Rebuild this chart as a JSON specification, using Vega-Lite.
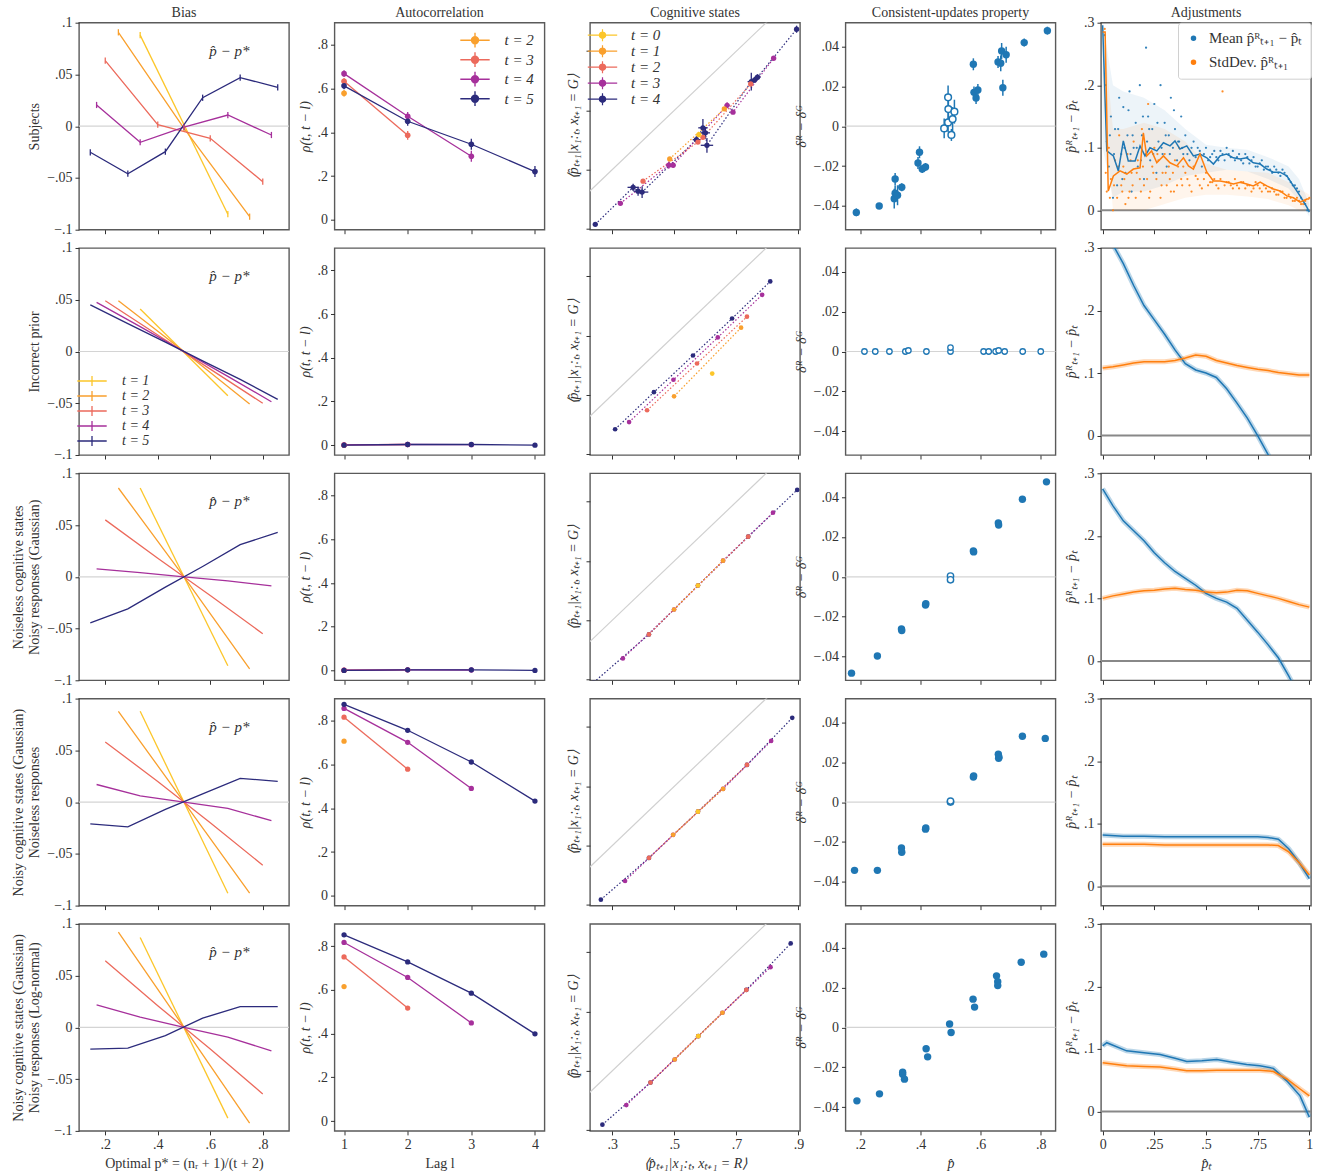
{
"$schema":"https://vega.github.io/schema/vega-lite/v6.json",
"background":"white",
"padding":{"left":10,"top":4.7,"right":4,"bottom":4},
"columns":5,
"spacing":{"row":18.3,"column":45.5},
"bounds":"flush",
"resolve":{"scale":{"color":"independent"},"legend":{"color":"independent"}},
"config":{
 "font":"Liberation Serif",
 "view":{"stroke":"#5a5a5a","strokeWidth":1.4},
 "axis":{"domain":false,"grid":false,"tickSize":4,"tickColor":"#333","tickWidth":1,"labelFontSize":14,"labelColor":"#333","titleFontSize":14,"titleFontWeight":"normal","titleColor":"#333","labelPadding":3,"titlePadding":5,"labelFont":"Liberation Serif","titleFont":"Liberation Serif","labelOverlap":false},
 "title":{"fontSize":14,"fontWeight":"normal","color":"#333","offset":3,"font":"Liberation Serif"},
 "legend":{"labelFont":"Liberation Serif","labelColor":"#333"}
},
"datasets":{
"bias":[
{"r":1,"t":1,"x":0.333,"y":0.088,"e":0.003},{"r":1,"t":1,"x":0.667,"y":-0.085,"e":0.003},
{"r":1,"t":2,"x":0.25,"y":0.0907,"e":0.003},{"r":1,"t":2,"x":0.5,"y":-0.002,"e":0.003},{"r":1,"t":2,"x":0.75,"y":-0.0874,"e":0.003},
{"r":1,"t":3,"x":0.2,"y":0.0633,"e":0.003},{"r":1,"t":3,"x":0.4,"y":0.0015,"e":0.003},{"r":1,"t":3,"x":0.6,"y":-0.0117,"e":0.003},{"r":1,"t":3,"x":0.8,"y":-0.0536,"e":0.003},
{"r":1,"t":4,"x":0.167,"y":0.0205,"e":0.003},{"r":1,"t":4,"x":0.333,"y":-0.0155,"e":0.003},{"r":1,"t":4,"x":0.5,"y":-0.001,"e":0.003},{"r":1,"t":4,"x":0.667,"y":0.0108,"e":0.003},{"r":1,"t":4,"x":0.833,"y":-0.0085,"e":0.003},
{"r":1,"t":5,"x":0.143,"y":-0.0252,"e":0.003},{"r":1,"t":5,"x":0.286,"y":-0.0459,"e":0.003},{"r":1,"t":5,"x":0.429,"y":-0.0246,"e":0.003},{"r":1,"t":5,"x":0.571,"y":0.0275,"e":0.003},{"r":1,"t":5,"x":0.714,"y":0.0469,"e":0.003},{"r":1,"t":5,"x":0.857,"y":0.0376,"e":0.003},
{"r":2,"t":1,"x":0.333,"y":0.041},{"r":2,"t":1,"x":0.667,"y":-0.0427},
{"r":2,"t":2,"x":0.25,"y":0.049},{"r":2,"t":2,"x":0.5,"y":0},{"r":2,"t":2,"x":0.75,"y":-0.0507},
{"r":2,"t":3,"x":0.2,"y":0.049},{"r":2,"t":3,"x":0.4,"y":0.016},{"r":2,"t":3,"x":0.6,"y":-0.017},{"r":2,"t":3,"x":0.8,"y":-0.05},
{"r":2,"t":4,"x":0.167,"y":0.0475},{"r":2,"t":4,"x":0.333,"y":0.024},{"r":2,"t":4,"x":0.5,"y":0},{"r":2,"t":4,"x":0.667,"y":-0.024},{"r":2,"t":4,"x":0.833,"y":-0.0486},
{"r":2,"t":5,"x":0.143,"y":0.045},{"r":2,"t":5,"x":0.286,"y":0.027},{"r":2,"t":5,"x":0.429,"y":0.009},{"r":2,"t":5,"x":0.571,"y":-0.009},{"r":2,"t":5,"x":0.714,"y":-0.027},{"r":2,"t":5,"x":0.857,"y":-0.0463},
{"r":3,"t":1,"x":0.333,"y":0.0858},{"r":3,"t":1,"x":0.667,"y":-0.086},
{"r":3,"t":2,"x":0.25,"y":0.0858},{"r":3,"t":2,"x":0.5,"y":0},{"r":3,"t":2,"x":0.75,"y":-0.089},
{"r":3,"t":3,"x":0.2,"y":0.055},{"r":3,"t":3,"x":0.4,"y":0.018},{"r":3,"t":3,"x":0.6,"y":-0.018},{"r":3,"t":3,"x":0.8,"y":-0.055},
{"r":3,"t":4,"x":0.167,"y":0.0077},{"r":3,"t":4,"x":0.333,"y":0.004},{"r":3,"t":4,"x":0.5,"y":0},{"r":3,"t":4,"x":0.667,"y":-0.004},{"r":3,"t":4,"x":0.833,"y":-0.0087},
{"r":3,"t":5,"x":0.143,"y":-0.0446},{"r":3,"t":5,"x":0.286,"y":-0.031},{"r":3,"t":5,"x":0.429,"y":-0.01},{"r":3,"t":5,"x":0.571,"y":0.01},{"r":3,"t":5,"x":0.714,"y":0.031},{"r":3,"t":5,"x":0.857,"y":0.043},
{"r":4,"t":1,"x":0.333,"y":0.0877},{"r":4,"t":1,"x":0.667,"y":-0.088},
{"r":4,"t":2,"x":0.25,"y":0.0877},{"r":4,"t":2,"x":0.5,"y":0},{"r":4,"t":2,"x":0.75,"y":-0.088},
{"r":4,"t":3,"x":0.2,"y":0.058},{"r":4,"t":3,"x":0.4,"y":0.02},{"r":4,"t":3,"x":0.6,"y":-0.02},{"r":4,"t":3,"x":0.8,"y":-0.061},
{"r":4,"t":4,"x":0.167,"y":0.017},{"r":4,"t":4,"x":0.333,"y":0.006},{"r":4,"t":4,"x":0.5,"y":0},{"r":4,"t":4,"x":0.667,"y":-0.006},{"r":4,"t":4,"x":0.833,"y":-0.018},
{"r":4,"t":5,"x":0.143,"y":-0.021},{"r":4,"t":5,"x":0.286,"y":-0.024},{"r":4,"t":5,"x":0.429,"y":-0.007},{"r":4,"t":5,"x":0.571,"y":0.008},{"r":4,"t":5,"x":0.714,"y":0.023},{"r":4,"t":5,"x":0.857,"y":0.02},
{"r":5,"t":1,"x":0.333,"y":0.0868},{"r":5,"t":1,"x":0.667,"y":-0.0877},
{"r":5,"t":2,"x":0.25,"y":0.092},{"r":5,"t":2,"x":0.5,"y":0},{"r":5,"t":2,"x":0.75,"y":-0.0926},
{"r":5,"t":3,"x":0.2,"y":0.0643},{"r":5,"t":3,"x":0.4,"y":0.021},{"r":5,"t":3,"x":0.6,"y":-0.021},{"r":5,"t":3,"x":0.8,"y":-0.0643},
{"r":5,"t":4,"x":0.167,"y":0.0217},{"r":5,"t":4,"x":0.333,"y":0.0099},{"r":5,"t":4,"x":0.5,"y":0},{"r":5,"t":4,"x":0.667,"y":-0.0094},{"r":5,"t":4,"x":0.833,"y":-0.0227},
{"r":5,"t":5,"x":0.143,"y":-0.021},{"r":5,"t":5,"x":0.286,"y":-0.02},{"r":5,"t":5,"x":0.429,"y":-0.008},{"r":5,"t":5,"x":0.571,"y":0.0089},{"r":5,"t":5,"x":0.714,"y":0.0201},{"r":5,"t":5,"x":0.857,"y":0.0201}
],
"ac":[
{"r":1,"t":2,"lag":1,"rho":0.579,"e":0.015},
{"r":1,"t":3,"lag":1,"rho":0.634,"e":0.015},{"r":1,"t":3,"lag":2,"rho":0.387,"e":0.02},
{"r":1,"t":4,"lag":1,"rho":0.669,"e":0.015},{"r":1,"t":4,"lag":2,"rho":0.474,"e":0.02},{"r":1,"t":4,"lag":3,"rho":0.291,"e":0.025},
{"r":1,"t":5,"lag":1,"rho":0.613,"e":0.015},{"r":1,"t":5,"lag":2,"rho":0.451,"e":0.02},{"r":1,"t":5,"lag":3,"rho":0.346,"e":0.025},{"r":1,"t":5,"lag":4,"rho":0.221,"e":0.025},
{"r":2,"t":2,"lag":1,"rho":0.0},
{"r":2,"t":3,"lag":1,"rho":0.001},{"r":2,"t":3,"lag":2,"rho":0.003},
{"r":2,"t":4,"lag":1,"rho":0.001},{"r":2,"t":4,"lag":2,"rho":0.003},{"r":2,"t":4,"lag":3,"rho":0.002},
{"r":2,"t":5,"lag":1,"rho":0.0},{"r":2,"t":5,"lag":2,"rho":0.003},{"r":2,"t":5,"lag":3,"rho":0.003},{"r":2,"t":5,"lag":4,"rho":0.0},
{"r":3,"t":2,"lag":1,"rho":0.0},
{"r":3,"t":3,"lag":1,"rho":0.001},{"r":3,"t":3,"lag":2,"rho":0.003},
{"r":3,"t":4,"lag":1,"rho":0.001},{"r":3,"t":4,"lag":2,"rho":0.003},{"r":3,"t":4,"lag":3,"rho":0.002},
{"r":3,"t":5,"lag":1,"rho":0.0},{"r":3,"t":5,"lag":2,"rho":0.003},{"r":3,"t":5,"lag":3,"rho":0.003},{"r":3,"t":5,"lag":4,"rho":0.0},
{"r":4,"t":2,"lag":1,"rho":0.707},
{"r":4,"t":3,"lag":1,"rho":0.817},{"r":4,"t":3,"lag":2,"rho":0.579},
{"r":4,"t":4,"lag":1,"rho":0.857},{"r":4,"t":4,"lag":2,"rho":0.702},{"r":4,"t":4,"lag":3,"rho":0.491},
{"r":4,"t":5,"lag":1,"rho":0.876},{"r":4,"t":5,"lag":2,"rho":0.757},{"r":4,"t":5,"lag":3,"rho":0.612},{"r":4,"t":5,"lag":4,"rho":0.433},
{"r":5,"t":2,"lag":1,"rho":0.615},
{"r":5,"t":3,"lag":1,"rho":0.751},{"r":5,"t":3,"lag":2,"rho":0.517},
{"r":5,"t":4,"lag":1,"rho":0.817},{"r":5,"t":4,"lag":2,"rho":0.657},{"r":5,"t":4,"lag":3,"rho":0.449},
{"r":5,"t":5,"lag":1,"rho":0.852},{"r":5,"t":5,"lag":2,"rho":0.728},{"r":5,"t":5,"lag":3,"rho":0.585},{"r":5,"t":5,"lag":4,"rho":0.399}
],
"cog":[
{"r":1,"t":4,"x":0.245,"y":0.115,"ex":0.006,"ey":0.004},{"r":1,"t":4,"x":0.367,"y":0.24,"ex":0.018,"ey":0.012},{"r":1,"t":4,"x":0.383,"y":0.227,"ex":0.015,"ey":0.015},{"r":1,"t":4,"x":0.396,"y":0.224,"ex":0.02,"ey":0.02},{"r":1,"t":4,"x":0.571,"y":0.401,"ex":0.012,"ey":0.012},{"r":1,"t":4,"x":0.592,"y":0.441,"ex":0.015,"ey":0.03},{"r":1,"t":4,"x":0.6,"y":0.424,"ex":0.015,"ey":0.02},{"r":1,"t":4,"x":0.605,"y":0.382,"ex":0.02,"ey":0.025},{"r":1,"t":4,"x":0.748,"y":0.597,"ex":0.012,"ey":0.03},{"r":1,"t":4,"x":0.759,"y":0.603,"ex":0.01,"ey":0.01},{"r":1,"t":4,"x":0.768,"y":0.612,"ex":0.01,"ey":0.01},{"r":1,"t":4,"x":0.894,"y":0.774,"ex":0.004,"ey":0.012},
{"r":1,"t":3,"x":0.326,"y":0.186,"ex":0.006,"ey":0.006},{"r":1,"t":3,"x":0.482,"y":0.315,"ex":0.01,"ey":0.012},{"r":1,"t":3,"x":0.496,"y":0.315,"ex":0.008,"ey":0.01},{"r":1,"t":3,"x":0.67,"y":0.517,"ex":0.008,"ey":0.01},{"r":1,"t":3,"x":0.689,"y":0.494,"ex":0.006,"ey":0.006},{"r":1,"t":3,"x":0.82,"y":0.676,"ex":0.006,"ey":0.006},
{"r":1,"t":2,"x":0.399,"y":0.261,"ex":0.005,"ey":0.005},{"r":1,"t":2,"x":0.576,"y":0.393,"ex":0.006,"ey":0.006},{"r":1,"t":2,"x":0.592,"y":0.409,"ex":0.006,"ey":0.006},{"r":1,"t":2,"x":0.746,"y":0.589,"ex":0.005,"ey":0.005},
{"r":1,"t":1,"x":0.485,"y":0.336,"ex":0.005,"ey":0.005},{"r":1,"t":1,"x":0.661,"y":0.505,"ex":0.005,"ey":0.005},
{"r":1,"t":0,"x":0.579,"y":0.418,"ex":0.006,"ey":0.006},
{"r":2,"t":4,"x":0.309,"y":0.184},{"r":2,"t":4,"x":0.434,"y":0.309},{"r":2,"t":4,"x":0.56,"y":0.433},{"r":2,"t":4,"x":0.686,"y":0.558},{"r":2,"t":4,"x":0.809,"y":0.683},
{"r":2,"t":3,"x":0.354,"y":0.208},{"r":2,"t":3,"x":0.497,"y":0.351},{"r":2,"t":3,"x":0.64,"y":0.494},{"r":2,"t":3,"x":0.783,"y":0.638},
{"r":2,"t":2,"x":0.412,"y":0.248},{"r":2,"t":2,"x":0.573,"y":0.406},{"r":2,"t":2,"x":0.734,"y":0.564},
{"r":2,"t":1,"x":0.499,"y":0.295},{"r":2,"t":1,"x":0.715,"y":0.527},
{"r":2,"t":0,"x":0.622,"y":0.372},
{"r":3,"t":4,"x":0.24,"y":0.09},{"r":3,"t":4,"x":0.418,"y":0.252},{"r":3,"t":4,"x":0.576,"y":0.417},{"r":3,"t":4,"x":0.738,"y":0.582},{"r":3,"t":4,"x":0.896,"y":0.74},
{"r":3,"t":3,"x":0.334,"y":0.171},{"r":3,"t":3,"x":0.499,"y":0.336},{"r":3,"t":3,"x":0.657,"y":0.501},{"r":3,"t":3,"x":0.818,"y":0.663},
{"r":3,"t":2,"x":0.418,"y":0.252},{"r":3,"t":2,"x":0.576,"y":0.417},{"r":3,"t":2,"x":0.738,"y":0.582},
{"r":3,"t":1,"x":0.499,"y":0.336},{"r":3,"t":1,"x":0.657,"y":0.501},
{"r":3,"t":0,"x":0.576,"y":0.417},
{"r":4,"t":4,"x":0.263,"y":0.117},{"r":4,"t":4,"x":0.418,"y":0.258},{"r":4,"t":4,"x":0.576,"y":0.414},{"r":4,"t":4,"x":0.734,"y":0.572},{"r":4,"t":4,"x":0.88,"y":0.731},
{"r":4,"t":3,"x":0.341,"y":0.18},{"r":4,"t":3,"x":0.496,"y":0.336},{"r":4,"t":3,"x":0.657,"y":0.491},{"r":4,"t":3,"x":0.812,"y":0.653},
{"r":4,"t":2,"x":0.418,"y":0.258},{"r":4,"t":2,"x":0.576,"y":0.414},{"r":4,"t":2,"x":0.734,"y":0.572},
{"r":4,"t":1,"x":0.496,"y":0.336},{"r":4,"t":1,"x":0.657,"y":0.491},
{"r":4,"t":0,"x":0.576,"y":0.414},
{"r":5,"t":4,"x":0.268,"y":0.118},{"r":5,"t":4,"x":0.423,"y":0.26},{"r":5,"t":4,"x":0.577,"y":0.417},{"r":5,"t":4,"x":0.732,"y":0.573},{"r":5,"t":4,"x":0.875,"y":0.73},
{"r":5,"t":3,"x":0.345,"y":0.184},{"r":5,"t":3,"x":0.501,"y":0.338},{"r":5,"t":3,"x":0.655,"y":0.496},{"r":5,"t":3,"x":0.81,"y":0.65},
{"r":5,"t":2,"x":0.423,"y":0.26},{"r":5,"t":2,"x":0.577,"y":0.417},{"r":5,"t":2,"x":0.732,"y":0.573},
{"r":5,"t":1,"x":0.501,"y":0.338},{"r":5,"t":1,"x":0.655,"y":0.496},
{"r":5,"t":0,"x":0.577,"y":0.417}
],
"cup":[
{"r":1,"x":0.187,"y":-0.0433,"e":0.002,"open":0},{"r":1,"x":0.263,"y":-0.0401,"e":0.0015,"open":0},{"r":1,"x":0.316,"y":-0.0265,"e":0.003,"open":0},{"r":1,"x":0.316,"y":-0.0337,"e":0.004,"open":0},{"r":1,"x":0.313,"y":-0.0364,"e":0.005,"open":0},{"r":1,"x":0.324,"y":-0.0347,"e":0.005,"open":0},{"r":1,"x":0.338,"y":-0.0307,"e":0.002,"open":0},{"r":1,"x":0.397,"y":-0.0131,"e":0.003,"open":0},{"r":1,"x":0.392,"y":-0.0185,"e":0.003,"open":0},{"r":1,"x":0.406,"y":-0.0215,"e":0.002,"open":0},{"r":1,"x":0.417,"y":-0.0205,"e":0.002,"open":0},{"r":1,"x":0.576,"y":0.0311,"e":0.003,"open":0},{"r":1,"x":0.578,"y":0.017,"e":0.003,"open":0},{"r":1,"x":0.585,"y":0.0142,"e":0.003,"open":0},{"r":1,"x":0.591,"y":0.0182,"e":0.003,"open":0},{"r":1,"x":0.658,"y":0.0323,"e":0.003,"open":0},{"r":1,"x":0.667,"y":0.0316,"e":0.004,"open":0},{"r":1,"x":0.67,"y":0.0378,"e":0.004,"open":0},{"r":1,"x":0.685,"y":0.0359,"e":0.004,"open":0},{"r":1,"x":0.674,"y":0.0193,"e":0.004,"open":0},{"r":1,"x":0.745,"y":0.042,"e":0.002,"open":0},{"r":1,"x":0.822,"y":0.048,"e":0.002,"open":0},
{"r":1,"x":0.479,"y":-0.0011,"e":0.005,"open":1},{"r":1,"x":0.492,"y":0.0145,"e":0.006,"open":1},{"r":1,"x":0.493,"y":0.0086,"e":0.006,"open":1},{"r":1,"x":0.492,"y":0.0019,"e":0.005,"open":1},{"r":1,"x":0.503,"y":-0.0044,"e":0.003,"open":1},{"r":1,"x":0.507,"y":0.0036,"e":0.006,"open":1},{"r":1,"x":0.513,"y":0.0073,"e":0.006,"open":1},
{"r":2,"x":0.214,"y":0,"open":1},{"r":2,"x":0.25,"y":0,"open":1},{"r":2,"x":0.297,"y":0,"open":1},{"r":2,"x":0.35,"y":0,"open":1},{"r":2,"x":0.36,"y":0.0005,"open":1},{"r":2,"x":0.42,"y":0,"open":1},{"r":2,"x":0.5,"y":0,"open":1},{"r":2,"x":0.5,"y":0.002,"open":1},{"r":2,"x":0.61,"y":0,"open":1},{"r":2,"x":0.627,"y":0,"open":1},{"r":2,"x":0.65,"y":0,"open":1},{"r":2,"x":0.66,"y":0.0005,"open":1},{"r":2,"x":0.68,"y":0,"open":1},{"r":2,"x":0.74,"y":0,"open":1},{"r":2,"x":0.8,"y":0,"open":1},
{"r":3,"x":0.171,"y":-0.0484,"open":0},{"r":3,"x":0.257,"y":-0.0398,"open":0},{"r":3,"x":0.337,"y":-0.0262,"open":0},{"r":3,"x":0.338,"y":-0.027,"open":0},{"r":3,"x":0.417,"y":-0.0142,"open":0},{"r":3,"x":0.418,"y":-0.0135,"open":0},{"r":3,"x":0.5,"y":0.0004,"open":1},{"r":3,"x":0.5,"y":-0.0015,"open":1},{"r":3,"x":0.576,"y":0.013,"open":0},{"r":3,"x":0.577,"y":0.0125,"open":0},{"r":3,"x":0.659,"y":0.027,"open":0},{"r":3,"x":0.66,"y":0.026,"open":0},{"r":3,"x":0.739,"y":0.039,"open":0},{"r":3,"x":0.819,"y":0.0477,"open":0},
{"r":4,"x":0.181,"y":-0.0343,"open":0},{"r":4,"x":0.257,"y":-0.0343,"open":0},{"r":4,"x":0.337,"y":-0.0231,"open":0},{"r":4,"x":0.338,"y":-0.0252,"open":0},{"r":4,"x":0.417,"y":-0.0136,"open":0},{"r":4,"x":0.418,"y":-0.013,"open":0},{"r":4,"x":0.5,"y":0.0,"open":1},{"r":4,"x":0.5,"y":0.0005,"open":1},{"r":4,"x":0.576,"y":0.0126,"open":0},{"r":4,"x":0.577,"y":0.0131,"open":0},{"r":4,"x":0.659,"y":0.024,"open":0},{"r":4,"x":0.66,"y":0.022,"open":0},{"r":4,"x":0.661,"y":0.0225,"open":0},{"r":4,"x":0.739,"y":0.0331,"open":0},{"r":4,"x":0.815,"y":0.032,"open":0},
{"r":5,"x":0.189,"y":-0.0369,"open":0},{"r":5,"x":0.264,"y":-0.0334,"open":0},{"r":5,"x":0.341,"y":-0.0225,"open":0},{"r":5,"x":0.341,"y":-0.0235,"open":0},{"r":5,"x":0.347,"y":-0.026,"open":0},{"r":5,"x":0.419,"y":-0.0107,"open":0},{"r":5,"x":0.424,"y":-0.0148,"open":0},{"r":5,"x":0.497,"y":0.0017,"open":0},{"r":5,"x":0.502,"y":-0.0026,"open":0},{"r":5,"x":0.575,"y":0.0142,"open":0},{"r":5,"x":0.58,"y":0.0102,"open":0},{"r":5,"x":0.653,"y":0.0259,"open":0},{"r":5,"x":0.657,"y":0.0229,"open":0},{"r":5,"x":0.657,"y":0.021,"open":0},{"r":5,"x":0.735,"y":0.0327,"open":0},{"r":5,"x":0.81,"y":0.0368,"open":0}
],
"adjL":[
{"r":1,"s":"mean","x":0,"y":0.296},{"r":1,"s":"mean","x":0.02,"y":0.095},{"r":1,"s":"mean","x":0.052,"y":0.087},{"r":1,"s":"mean","x":0.076,"y":0.063},{"r":1,"s":"mean","x":0.1,"y":0.111},{"r":1,"s":"mean","x":0.124,"y":0.079},{"r":1,"s":"mean","x":0.157,"y":0.079},{"r":1,"s":"mean","x":0.181,"y":0.103},{"r":1,"s":"mean","x":0.205,"y":0.087},{"r":1,"s":"mean","x":0.229,"y":0.1},{"r":1,"s":"mean","x":0.262,"y":0.095},{"r":1,"s":"mean","x":0.294,"y":0.108},{"r":1,"s":"mean","x":0.326,"y":0.103},{"r":1,"s":"mean","x":0.35,"y":0.111},{"r":1,"s":"mean","x":0.374,"y":0.098},{"r":1,"s":"mean","x":0.407,"y":0.103},{"r":1,"s":"mean","x":0.439,"y":0.087},{"r":1,"s":"mean","x":0.471,"y":0.09},{"r":1,"s":"mean","x":0.504,"y":0.084},{"r":1,"s":"mean","x":0.536,"y":0.074},{"r":1,"s":"mean","x":0.568,"y":0.087},{"r":1,"s":"mean","x":0.6,"y":0.09},{"r":1,"s":"mean","x":0.632,"y":0.084},{"r":1,"s":"mean","x":0.665,"y":0.082},{"r":1,"s":"mean","x":0.697,"y":0.084},{"r":1,"s":"mean","x":0.729,"y":0.076},{"r":1,"s":"mean","x":0.762,"y":0.074},{"r":1,"s":"mean","x":0.794,"y":0.066},{"r":1,"s":"mean","x":0.826,"y":0.061},{"r":1,"s":"mean","x":0.858,"y":0.061},{"r":1,"s":"mean","x":0.891,"y":0.055},{"r":1,"s":"mean","x":0.923,"y":0.039},{"r":1,"s":"mean","x":0.955,"y":0.023},{"r":1,"s":"mean","x":0.988,"y":0.005},{"r":1,"s":"mean","x":1.0,"y":-0.003},
{"r":1,"s":"sd","x":0,"y":0.285},{"r":1,"s":"sd","x":0.012,"y":0.285},{"r":1,"s":"sd","x":0.027,"y":0.031},{"r":1,"s":"sd","x":0.052,"y":0.055},{"r":1,"s":"sd","x":0.084,"y":0.063},{"r":1,"s":"sd","x":0.117,"y":0.058},{"r":1,"s":"sd","x":0.149,"y":0.066},{"r":1,"s":"sd","x":0.181,"y":0.068},{"r":1,"s":"sd","x":0.197,"y":0.124},{"r":1,"s":"sd","x":0.213,"y":0.087},{"r":1,"s":"sd","x":0.237,"y":0.095},{"r":1,"s":"sd","x":0.262,"y":0.076},{"r":1,"s":"sd","x":0.294,"y":0.087},{"r":1,"s":"sd","x":0.326,"y":0.076},{"r":1,"s":"sd","x":0.358,"y":0.071},{"r":1,"s":"sd","x":0.391,"y":0.084},{"r":1,"s":"sd","x":0.415,"y":0.071},{"r":1,"s":"sd","x":0.439,"y":0.066},{"r":1,"s":"sd","x":0.471,"y":0.09},{"r":1,"s":"sd","x":0.504,"y":0.061},{"r":1,"s":"sd","x":0.536,"y":0.047},{"r":1,"s":"sd","x":0.568,"y":0.047},{"r":1,"s":"sd","x":0.6,"y":0.045},{"r":1,"s":"sd","x":0.632,"y":0.042},{"r":1,"s":"sd","x":0.665,"y":0.045},{"r":1,"s":"sd","x":0.697,"y":0.042},{"r":1,"s":"sd","x":0.729,"y":0.039},{"r":1,"s":"sd","x":0.762,"y":0.045},{"r":1,"s":"sd","x":0.794,"y":0.039},{"r":1,"s":"sd","x":0.826,"y":0.034},{"r":1,"s":"sd","x":0.858,"y":0.031},{"r":1,"s":"sd","x":0.891,"y":0.023},{"r":1,"s":"sd","x":0.923,"y":0.02},{"r":1,"s":"sd","x":0.955,"y":0.013},{"r":1,"s":"sd","x":0.988,"y":0.018},{"r":1,"s":"sd","x":1.0,"y":0.018},
{"r":2,"s":"mean","x":0,"y":0.325},{"r":2,"s":"mean","x":0.05,"y":0.305},{"r":2,"s":"mean","x":0.1,"y":0.275},{"r":2,"s":"mean","x":0.15,"y":0.24},{"r":2,"s":"mean","x":0.2,"y":0.208},{"r":2,"s":"mean","x":0.25,"y":0.185},{"r":2,"s":"mean","x":0.3,"y":0.162},{"r":2,"s":"mean","x":0.35,"y":0.137},{"r":2,"s":"mean","x":0.4,"y":0.115},{"r":2,"s":"mean","x":0.45,"y":0.105},{"r":2,"s":"mean","x":0.5,"y":0.1},{"r":2,"s":"mean","x":0.55,"y":0.093},{"r":2,"s":"mean","x":0.6,"y":0.075},{"r":2,"s":"mean","x":0.65,"y":0.052},{"r":2,"s":"mean","x":0.7,"y":0.028},{"r":2,"s":"mean","x":0.75,"y":0.0},{"r":2,"s":"mean","x":0.8,"y":-0.03},{"r":2,"s":"mean","x":0.85,"y":-0.06},
{"r":2,"s":"sd","x":0,"y":0.108},{"r":2,"s":"sd","x":0.05,"y":0.11},{"r":2,"s":"sd","x":0.1,"y":0.113},{"r":2,"s":"sd","x":0.15,"y":0.116},{"r":2,"s":"sd","x":0.2,"y":0.118},{"r":2,"s":"sd","x":0.25,"y":0.118},{"r":2,"s":"sd","x":0.3,"y":0.118},{"r":2,"s":"sd","x":0.35,"y":0.12},{"r":2,"s":"sd","x":0.4,"y":0.124},{"r":2,"s":"sd","x":0.45,"y":0.129},{"r":2,"s":"sd","x":0.5,"y":0.127},{"r":2,"s":"sd","x":0.55,"y":0.12},{"r":2,"s":"sd","x":0.6,"y":0.116},{"r":2,"s":"sd","x":0.65,"y":0.112},{"r":2,"s":"sd","x":0.7,"y":0.109},{"r":2,"s":"sd","x":0.75,"y":0.106},{"r":2,"s":"sd","x":0.8,"y":0.104},{"r":2,"s":"sd","x":0.85,"y":0.101},{"r":2,"s":"sd","x":0.9,"y":0.099},{"r":2,"s":"sd","x":0.95,"y":0.097},{"r":2,"s":"sd","x":1.0,"y":0.097},
{"r":3,"s":"mean","x":0,"y":0.275},{"r":3,"s":"mean","x":0.05,"y":0.248},{"r":3,"s":"mean","x":0.1,"y":0.224},{"r":3,"s":"mean","x":0.15,"y":0.208},{"r":3,"s":"mean","x":0.2,"y":0.192},{"r":3,"s":"mean","x":0.25,"y":0.173},{"r":3,"s":"mean","x":0.3,"y":0.157},{"r":3,"s":"mean","x":0.35,"y":0.143},{"r":3,"s":"mean","x":0.4,"y":0.132},{"r":3,"s":"mean","x":0.45,"y":0.121},{"r":3,"s":"mean","x":0.5,"y":0.108},{"r":3,"s":"mean","x":0.55,"y":0.1},{"r":3,"s":"mean","x":0.6,"y":0.094},{"r":3,"s":"mean","x":0.65,"y":0.084},{"r":3,"s":"mean","x":0.7,"y":0.065},{"r":3,"s":"mean","x":0.75,"y":0.046},{"r":3,"s":"mean","x":0.8,"y":0.026},{"r":3,"s":"mean","x":0.85,"y":0.005},{"r":3,"s":"mean","x":0.9,"y":-0.024},{"r":3,"s":"mean","x":0.95,"y":-0.055},
{"r":3,"s":"sd","x":0,"y":0.1},{"r":3,"s":"sd","x":0.05,"y":0.104},{"r":3,"s":"sd","x":0.1,"y":0.107},{"r":3,"s":"sd","x":0.15,"y":0.11},{"r":3,"s":"sd","x":0.2,"y":0.112},{"r":3,"s":"sd","x":0.25,"y":0.113},{"r":3,"s":"sd","x":0.3,"y":0.115},{"r":3,"s":"sd","x":0.35,"y":0.116},{"r":3,"s":"sd","x":0.4,"y":0.114},{"r":3,"s":"sd","x":0.45,"y":0.113},{"r":3,"s":"sd","x":0.5,"y":0.11},{"r":3,"s":"sd","x":0.55,"y":0.109},{"r":3,"s":"sd","x":0.6,"y":0.11},{"r":3,"s":"sd","x":0.65,"y":0.113},{"r":3,"s":"sd","x":0.7,"y":0.112},{"r":3,"s":"sd","x":0.75,"y":0.108},{"r":3,"s":"sd","x":0.8,"y":0.104},{"r":3,"s":"sd","x":0.85,"y":0.1},{"r":3,"s":"sd","x":0.9,"y":0.095},{"r":3,"s":"sd","x":0.95,"y":0.09},{"r":3,"s":"sd","x":1.0,"y":0.086},
{"r":4,"s":"mean","x":0,"y":0.082},{"r":4,"s":"mean","x":0.1,"y":0.08},{"r":4,"s":"mean","x":0.2,"y":0.08},{"r":4,"s":"mean","x":0.3,"y":0.079},{"r":4,"s":"mean","x":0.4,"y":0.079},{"r":4,"s":"mean","x":0.5,"y":0.079},{"r":4,"s":"mean","x":0.6,"y":0.079},{"r":4,"s":"mean","x":0.7,"y":0.079},{"r":4,"s":"mean","x":0.75,"y":0.079},{"r":4,"s":"mean","x":0.8,"y":0.078},{"r":4,"s":"mean","x":0.85,"y":0.075},{"r":4,"s":"mean","x":0.9,"y":0.06},{"r":4,"s":"mean","x":0.95,"y":0.038},{"r":4,"s":"mean","x":1.0,"y":0.012},
{"r":4,"s":"sd","x":0,"y":0.067},{"r":4,"s":"sd","x":0.1,"y":0.067},{"r":4,"s":"sd","x":0.2,"y":0.067},{"r":4,"s":"sd","x":0.3,"y":0.066},{"r":4,"s":"sd","x":0.4,"y":0.066},{"r":4,"s":"sd","x":0.5,"y":0.066},{"r":4,"s":"sd","x":0.6,"y":0.066},{"r":4,"s":"sd","x":0.7,"y":0.066},{"r":4,"s":"sd","x":0.75,"y":0.066},{"r":4,"s":"sd","x":0.8,"y":0.066},{"r":4,"s":"sd","x":0.85,"y":0.065},{"r":4,"s":"sd","x":0.9,"y":0.055},{"r":4,"s":"sd","x":0.95,"y":0.038},{"r":4,"s":"sd","x":1.0,"y":0.018},
{"r":5,"s":"mean","x":0,"y":0.105},{"r":5,"s":"mean","x":0.02,"y":0.11},{"r":5,"s":"mean","x":0.116,"y":0.097},{"r":5,"s":"mean","x":0.2,"y":0.094},{"r":5,"s":"mean","x":0.278,"y":0.091},{"r":5,"s":"mean","x":0.35,"y":0.085},{"r":5,"s":"mean","x":0.407,"y":0.08},{"r":5,"s":"mean","x":0.48,"y":0.081},{"r":5,"s":"mean","x":0.552,"y":0.083},{"r":5,"s":"mean","x":0.62,"y":0.079},{"r":5,"s":"mean","x":0.697,"y":0.075},{"r":5,"s":"mean","x":0.76,"y":0.073},{"r":5,"s":"mean","x":0.826,"y":0.069},{"r":5,"s":"mean","x":0.891,"y":0.049},{"r":5,"s":"mean","x":0.955,"y":0.025},{"r":5,"s":"mean","x":1.0,"y":-0.009},
{"r":5,"s":"sd","x":0,"y":0.078},{"r":5,"s":"sd","x":0.116,"y":0.073},{"r":5,"s":"sd","x":0.2,"y":0.072},{"r":5,"s":"sd","x":0.278,"y":0.071},{"r":5,"s":"sd","x":0.35,"y":0.068},{"r":5,"s":"sd","x":0.407,"y":0.065},{"r":5,"s":"sd","x":0.48,"y":0.065},{"r":5,"s":"sd","x":0.552,"y":0.066},{"r":5,"s":"sd","x":0.62,"y":0.066},{"r":5,"s":"sd","x":0.697,"y":0.066},{"r":5,"s":"sd","x":0.76,"y":0.066},{"r":5,"s":"sd","x":0.826,"y":0.064},{"r":5,"s":"sd","x":0.891,"y":0.052},{"r":5,"s":"sd","x":0.955,"y":0.036},{"r":5,"s":"sd","x":1.0,"y":0.025}
],
"adjB":[
{"r":1,"s":"mean","x":0,"lo":0.1,"hi":0.3},{"r":1,"s":"mean","x":0.05,"lo":0.02,"hi":0.2},{"r":1,"s":"mean","x":0.1,"lo":0.03,"hi":0.19},{"r":1,"s":"mean","x":0.2,"lo":0.03,"hi":0.18},{"r":1,"s":"mean","x":0.3,"lo":0.04,"hi":0.16},{"r":1,"s":"mean","x":0.4,"lo":0.055,"hi":0.13},{"r":1,"s":"mean","x":0.5,"lo":0.06,"hi":0.105},{"r":1,"s":"mean","x":0.6,"lo":0.065,"hi":0.1},{"r":1,"s":"mean","x":0.7,"lo":0.062,"hi":0.097},{"r":1,"s":"mean","x":0.8,"lo":0.05,"hi":0.085},{"r":1,"s":"mean","x":0.9,"lo":0.035,"hi":0.07},{"r":1,"s":"mean","x":0.95,"lo":0.015,"hi":0.05},{"r":1,"s":"mean","x":1.0,"lo":-0.01,"hi":0.01},
{"r":1,"s":"sd","x":0,"lo":0.2,"hi":0.3},{"r":1,"s":"sd","x":0.05,"lo":0.0,"hi":0.13},{"r":1,"s":"sd","x":0.1,"lo":0.0,"hi":0.13},{"r":1,"s":"sd","x":0.2,"lo":0.0,"hi":0.14},{"r":1,"s":"sd","x":0.3,"lo":0.01,"hi":0.13},{"r":1,"s":"sd","x":0.4,"lo":0.02,"hi":0.11},{"r":1,"s":"sd","x":0.5,"lo":0.025,"hi":0.075},{"r":1,"s":"sd","x":0.6,"lo":0.025,"hi":0.065},{"r":1,"s":"sd","x":0.7,"lo":0.022,"hi":0.062},{"r":1,"s":"sd","x":0.8,"lo":0.018,"hi":0.06},{"r":1,"s":"sd","x":0.9,"lo":0.008,"hi":0.045},{"r":1,"s":"sd","x":0.95,"lo":0.0,"hi":0.035},{"r":1,"s":"sd","x":1.0,"lo":0.0,"hi":0.025}
],
"adjD":[
{"r":1,"s":"mean","x":0.01,"y":0.28},{"r":1,"s":"mean","x":0.02,"y":0.11},{"r":1,"s":"mean","x":0.03,"y":0.07},{"r":1,"s":"mean","x":0.04,"y":0.15},{"r":1,"s":"mean","x":0.05,"y":0.02},{"r":1,"s":"mean","x":0.06,"y":0.13},{"r":1,"s":"mean","x":0.07,"y":0.04},{"r":1,"s":"mean","x":0.08,"y":0.18},{"r":1,"s":"mean","x":0.09,"y":0.09},{"r":1,"s":"mean","x":0.1,"y":0.165},{"r":1,"s":"mean","x":0.11,"y":0.06},{"r":1,"s":"mean","x":0.12,"y":0.12},{"r":1,"s":"mean","x":0.13,"y":0.19},{"r":1,"s":"mean","x":0.14,"y":0.03},{"r":1,"s":"mean","x":0.15,"y":0.1},{"r":1,"s":"mean","x":0.16,"y":0.14},{"r":1,"s":"mean","x":0.17,"y":0.07},{"r":1,"s":"mean","x":0.18,"y":0.2},{"r":1,"s":"mean","x":0.19,"y":0.12},{"r":1,"s":"mean","x":0.2,"y":0.05},{"r":1,"s":"mean","x":0.21,"y":0.26},{"r":1,"s":"mean","x":0.22,"y":0.15},{"r":1,"s":"mean","x":0.23,"y":0.08},{"r":1,"s":"mean","x":0.24,"y":0.13},{"r":1,"s":"mean","x":0.25,"y":0.17},{"r":1,"s":"mean","x":0.26,"y":0.06},{"r":1,"s":"mean","x":0.27,"y":0.11},{"r":1,"s":"mean","x":0.28,"y":0.2},{"r":1,"s":"mean","x":0.29,"y":0.09},{"r":1,"s":"mean","x":0.3,"y":0.14},{"r":1,"s":"mean","x":0.31,"y":0.07},{"r":1,"s":"mean","x":0.32,"y":0.12},{"r":1,"s":"mean","x":0.33,"y":0.18},{"r":1,"s":"mean","x":0.34,"y":0.1},{"r":1,"s":"mean","x":0.35,"y":0.13},{"r":1,"s":"mean","x":0.36,"y":0.08},{"r":1,"s":"mean","x":0.37,"y":0.11},{"r":1,"s":"mean","x":0.38,"y":0.15},{"r":1,"s":"mean","x":0.39,"y":0.09},{"r":1,"s":"mean","x":0.4,"y":0.12},{"r":1,"s":"mean","x":0.42,"y":0.08},{"r":1,"s":"mean","x":0.44,"y":0.11},{"r":1,"s":"mean","x":0.46,"y":0.1},{"r":1,"s":"mean","x":0.48,"y":0.07},{"r":1,"s":"mean","x":0.5,"y":0.1},{"r":1,"s":"mean","x":0.52,"y":0.085},{"r":1,"s":"mean","x":0.54,"y":0.095},{"r":1,"s":"mean","x":0.56,"y":0.08},{"r":1,"s":"mean","x":0.58,"y":0.09},{"r":1,"s":"mean","x":0.6,"y":0.1},{"r":1,"s":"mean","x":0.62,"y":0.085},{"r":1,"s":"mean","x":0.64,"y":0.08},{"r":1,"s":"mean","x":0.66,"y":0.09},{"r":1,"s":"mean","x":0.68,"y":0.075},{"r":1,"s":"mean","x":0.7,"y":0.085},{"r":1,"s":"mean","x":0.72,"y":0.08},{"r":1,"s":"mean","x":0.74,"y":0.07},{"r":1,"s":"mean","x":0.76,"y":0.075},{"r":1,"s":"mean","x":0.78,"y":0.065},{"r":1,"s":"mean","x":0.8,"y":0.07},{"r":1,"s":"mean","x":0.82,"y":0.06},{"r":1,"s":"mean","x":0.84,"y":0.065},{"r":1,"s":"mean","x":0.86,"y":0.055},{"r":1,"s":"mean","x":0.88,"y":0.06},{"r":1,"s":"mean","x":0.9,"y":0.05},{"r":1,"s":"mean","x":0.92,"y":0.04},{"r":1,"s":"mean","x":0.94,"y":0.035},{"r":1,"s":"mean","x":0.96,"y":0.02},{"r":1,"s":"mean","x":0.98,"y":0.01},{"r":1,"s":"mean","x":0.99,"y":0.0},
{"r":1,"s":"mean","x":0.015,"y":0.2},{"r":1,"s":"mean","x":0.035,"y":0.12},{"r":1,"s":"mean","x":0.055,"y":0.09},{"r":1,"s":"mean","x":0.075,"y":0.13},{"r":1,"s":"mean","x":0.095,"y":0.05},{"r":1,"s":"mean","x":0.105,"y":0.1},{"r":1,"s":"mean","x":0.125,"y":0.16},{"r":1,"s":"mean","x":0.135,"y":0.09},{"r":1,"s":"mean","x":0.145,"y":0.12},{"r":1,"s":"mean","x":0.165,"y":0.1},{"r":1,"s":"mean","x":0.185,"y":0.08},{"r":1,"s":"mean","x":0.195,"y":0.15},{"r":1,"s":"mean","x":0.215,"y":0.11},{"r":1,"s":"mean","x":0.225,"y":0.13},{"r":1,"s":"mean","x":0.245,"y":0.09},{"r":1,"s":"mean","x":0.265,"y":0.14},{"r":1,"s":"mean","x":0.285,"y":0.1},{"r":1,"s":"mean","x":0.305,"y":0.12},{"r":1,"s":"mean","x":0.325,"y":0.09},{"r":1,"s":"mean","x":0.345,"y":0.16},{"r":1,"s":"mean","x":0.365,"y":0.11},{"r":1,"s":"mean","x":0.385,"y":0.1},{"r":1,"s":"mean","x":0.41,"y":0.09},{"r":1,"s":"mean","x":0.43,"y":0.1},{"r":1,"s":"mean","x":0.45,"y":0.085},{"r":1,"s":"mean","x":0.47,"y":0.095},{"r":1,"s":"mean","x":0.49,"y":0.09},{"r":1,"s":"mean","x":0.51,"y":0.08},{"r":1,"s":"mean","x":0.53,"y":0.09},{"r":1,"s":"mean","x":0.55,"y":0.085},{"r":1,"s":"mean","x":0.57,"y":0.095},{"r":1,"s":"mean","x":0.59,"y":0.08},{"r":1,"s":"mean","x":0.61,"y":0.09},{"r":1,"s":"mean","x":0.63,"y":0.095},{"r":1,"s":"mean","x":0.65,"y":0.085},{"r":1,"s":"mean","x":0.67,"y":0.08},{"r":1,"s":"mean","x":0.69,"y":0.09},{"r":1,"s":"mean","x":0.71,"y":0.075},{"r":1,"s":"mean","x":0.73,"y":0.085},{"r":1,"s":"mean","x":0.75,"y":0.07},{"r":1,"s":"mean","x":0.77,"y":0.08},{"r":1,"s":"mean","x":0.79,"y":0.07},{"r":1,"s":"mean","x":0.81,"y":0.065},{"r":1,"s":"mean","x":0.83,"y":0.07},{"r":1,"s":"mean","x":0.85,"y":0.06},{"r":1,"s":"mean","x":0.87,"y":0.065},{"r":1,"s":"mean","x":0.89,"y":0.055},{"r":1,"s":"mean","x":0.91,"y":0.045},{"r":1,"s":"mean","x":0.93,"y":0.04},{"r":1,"s":"mean","x":0.95,"y":0.03},{"r":1,"s":"mean","x":0.97,"y":0.015},
{"r":1,"s":"sd","x":0.01,"y":0.29},{"r":1,"s":"sd","x":0.02,"y":0.03},{"r":1,"s":"sd","x":0.03,"y":0.1},{"r":1,"s":"sd","x":0.04,"y":0.05},{"r":1,"s":"sd","x":0.05,"y":0.0},{"r":1,"s":"sd","x":0.06,"y":0.08},{"r":1,"s":"sd","x":0.07,"y":0.02},{"r":1,"s":"sd","x":0.08,"y":0.12},{"r":1,"s":"sd","x":0.09,"y":0.04},{"r":1,"s":"sd","x":0.1,"y":0.07},{"r":1,"s":"sd","x":0.11,"y":0.01},{"r":1,"s":"sd","x":0.12,"y":0.09},{"r":1,"s":"sd","x":0.13,"y":0.03},{"r":1,"s":"sd","x":0.14,"y":0.06},{"r":1,"s":"sd","x":0.15,"y":0.11},{"r":1,"s":"sd","x":0.16,"y":0.02},{"r":1,"s":"sd","x":0.17,"y":0.08},{"r":1,"s":"sd","x":0.18,"y":0.05},{"r":1,"s":"sd","x":0.19,"y":0.13},{"r":1,"s":"sd","x":0.2,"y":0.04},{"r":1,"s":"sd","x":0.21,"y":0.09},{"r":1,"s":"sd","x":0.22,"y":0.17},{"r":1,"s":"sd","x":0.23,"y":0.03},{"r":1,"s":"sd","x":0.24,"y":0.07},{"r":1,"s":"sd","x":0.25,"y":0.1},{"r":1,"s":"sd","x":0.26,"y":0.05},{"r":1,"s":"sd","x":0.27,"y":0.08},{"r":1,"s":"sd","x":0.28,"y":0.02},{"r":1,"s":"sd","x":0.29,"y":0.06},{"r":1,"s":"sd","x":0.3,"y":0.09},{"r":1,"s":"sd","x":0.31,"y":0.04},{"r":1,"s":"sd","x":0.32,"y":0.07},{"r":1,"s":"sd","x":0.33,"y":0.03},{"r":1,"s":"sd","x":0.34,"y":0.06},{"r":1,"s":"sd","x":0.35,"y":0.08},{"r":1,"s":"sd","x":0.36,"y":0.04},{"r":1,"s":"sd","x":0.37,"y":0.1},{"r":1,"s":"sd","x":0.38,"y":0.05},{"r":1,"s":"sd","x":0.39,"y":0.07},{"r":1,"s":"sd","x":0.4,"y":0.06},{"r":1,"s":"sd","x":0.42,"y":0.04},{"r":1,"s":"sd","x":0.44,"y":0.07},{"r":1,"s":"sd","x":0.46,"y":0.05},{"r":1,"s":"sd","x":0.48,"y":0.035},{"r":1,"s":"sd","x":0.5,"y":0.06},{"r":1,"s":"sd","x":0.52,"y":0.045},{"r":1,"s":"sd","x":0.54,"y":0.05},{"r":1,"s":"sd","x":0.56,"y":0.035},{"r":1,"s":"sd","x":0.58,"y":0.19},{"r":1,"s":"sd","x":0.6,"y":0.045},{"r":1,"s":"sd","x":0.62,"y":0.04},{"r":1,"s":"sd","x":0.64,"y":0.05},{"r":1,"s":"sd","x":0.66,"y":0.035},{"r":1,"s":"sd","x":0.68,"y":0.045},{"r":1,"s":"sd","x":0.7,"y":0.04},{"r":1,"s":"sd","x":0.72,"y":0.03},{"r":1,"s":"sd","x":0.74,"y":0.045},{"r":1,"s":"sd","x":0.76,"y":0.035},{"r":1,"s":"sd","x":0.78,"y":0.04},{"r":1,"s":"sd","x":0.8,"y":0.03},{"r":1,"s":"sd","x":0.82,"y":0.035},{"r":1,"s":"sd","x":0.84,"y":0.025},{"r":1,"s":"sd","x":0.86,"y":0.03},{"r":1,"s":"sd","x":0.88,"y":0.02},{"r":1,"s":"sd","x":0.9,"y":0.025},{"r":1,"s":"sd","x":0.92,"y":0.015},{"r":1,"s":"sd","x":0.94,"y":0.02},{"r":1,"s":"sd","x":0.96,"y":0.01},{"r":1,"s":"sd","x":0.98,"y":0.015},{"r":1,"s":"sd","x":1.0,"y":0.02},
{"r":1,"s":"sd","x":0.015,"y":0.06},{"r":1,"s":"sd","x":0.035,"y":0.02},{"r":1,"s":"sd","x":0.055,"y":0.04},{"r":1,"s":"sd","x":0.075,"y":0.07},{"r":1,"s":"sd","x":0.095,"y":0.03},{"r":1,"s":"sd","x":0.105,"y":0.05},{"r":1,"s":"sd","x":0.125,"y":0.02},{"r":1,"s":"sd","x":0.135,"y":0.08},{"r":1,"s":"sd","x":0.145,"y":0.04},{"r":1,"s":"sd","x":0.165,"y":0.06},{"r":1,"s":"sd","x":0.185,"y":0.03},{"r":1,"s":"sd","x":0.195,"y":0.07},{"r":1,"s":"sd","x":0.215,"y":0.05},{"r":1,"s":"sd","x":0.225,"y":0.02},{"r":1,"s":"sd","x":0.245,"y":0.06},{"r":1,"s":"sd","x":0.265,"y":0.09},{"r":1,"s":"sd","x":0.285,"y":0.04},{"r":1,"s":"sd","x":0.305,"y":0.06},{"r":1,"s":"sd","x":0.325,"y":0.05},{"r":1,"s":"sd","x":0.345,"y":0.03},{"r":1,"s":"sd","x":0.365,"y":0.07},{"r":1,"s":"sd","x":0.385,"y":0.04},{"r":1,"s":"sd","x":0.41,"y":0.05},{"r":1,"s":"sd","x":0.43,"y":0.03},{"r":1,"s":"sd","x":0.45,"y":0.055},{"r":1,"s":"sd","x":0.47,"y":0.04},{"r":1,"s":"sd","x":0.49,"y":0.05},{"r":1,"s":"sd","x":0.51,"y":0.04},{"r":1,"s":"sd","x":0.53,"y":0.045},{"r":1,"s":"sd","x":0.55,"y":0.04},{"r":1,"s":"sd","x":0.57,"y":0.05},{"r":1,"s":"sd","x":0.59,"y":0.04},{"r":1,"s":"sd","x":0.61,"y":0.045},{"r":1,"s":"sd","x":0.63,"y":0.035},{"r":1,"s":"sd","x":0.65,"y":0.04},{"r":1,"s":"sd","x":0.67,"y":0.045},{"r":1,"s":"sd","x":0.69,"y":0.035},{"r":1,"s":"sd","x":0.71,"y":0.04},{"r":1,"s":"sd","x":0.73,"y":0.035},{"r":1,"s":"sd","x":0.75,"y":0.04},{"r":1,"s":"sd","x":0.77,"y":0.03},{"r":1,"s":"sd","x":0.79,"y":0.035},{"r":1,"s":"sd","x":0.81,"y":0.03},{"r":1,"s":"sd","x":0.83,"y":0.03},{"r":1,"s":"sd","x":0.85,"y":0.025},{"r":1,"s":"sd","x":0.87,"y":0.03},{"r":1,"s":"sd","x":0.89,"y":0.02},{"r":1,"s":"sd","x":0.91,"y":0.02},{"r":1,"s":"sd","x":0.93,"y":0.015},{"r":1,"s":"sd","x":0.95,"y":0.015},{"r":1,"s":"sd","x":0.97,"y":0.01}
]
},
"concat":[
{"width":210,"height":207,"title":{"text":"Bias","offset":-4},"data":{"name":"bias"},"layer":[
 {"data":{"values":[{}]},"mark":{"type":"rule","color":"#d4d4d4","strokeWidth":1.2},"encoding":{"y":{"datum":0,"type":"quantitative"}}},
 {"transform":[{"filter":"datum.r == 1"}],"mark":{"type":"line","strokeWidth":1.3,"clip":true},"encoding":{"x":{"field":"x","type":"quantitative","scale":{"domain":[0.1,0.9],"nice":false,"zero":false},"axis":{"values":[0.2,0.4,0.6,0.8],"labels":false,"title":null}},"y":{"field":"y","type":"quantitative","scale":{"domain":[-0.1,0.1],"nice":false,"zero":false},"axis":{"values":[-0.1,-0.05,0,0.05,0.1],"title":"Subjects","labelExpr":"datum.value == 0 ? '0' : replace(format(datum.value, '~g'), '0.', '.')"}},"color":{"field":"t","type":"nominal","scale":{"domain":[1,2,3,4,5],"range":["#fcc62a","#f9a02e","#ec6a5c","#a6309b","#2c2b7c"]},"legend":null}}},
 {"transform":[{"filter":"datum.r == 1"}],"mark":{"type":"errorbar","thickness":1.3},"encoding":{"x":{"field":"x","type":"quantitative","title":null},"y":{"field":"y","type":"quantitative","title":"Subjects"},"yError":{"field":"e"},"color":{"field":"t","type":"nominal","legend":null}}},
 {"data":{"values":[{}]},"mark":{"type":"text","fontSize":15,"fontStyle":"italic","color":"#333"},"encoding":{"x":{"datum":0.673,"type":"quantitative"},"y":{"datum":0.073,"type":"quantitative"},"text":{"value":"p̂ − p*"}}}
]},
{"width":210,"height":207,"title":"Autocorrelation","data":{"name":"ac"},"layer":[
 {"transform":[{"filter":"datum.r == 1"}],"mark":{"type":"line","strokeWidth":1.3},"encoding":{"x":{"field":"lag","type":"quantitative","scale":{"domain":[0.85,4.15],"nice":false,"zero":false},"axis":{"values":[1,2,3,4],"labels":false,"title":null}},"y":{"field":"rho","type":"quantitative","scale":{"domain":[-0.045,0.902],"nice":false,"zero":false},"axis":{"values":[0,0.2,0.4,0.6,0.8],"title":"ρ(t, t − l)","titleFontStyle":"italic","labelExpr":"datum.value == 0 ? '0' : replace(format(datum.value, '~g'), '0.', '.')"}},"color":{"field":"t","type":"nominal","scale":{"domain":[2,3,4,5],"range":["#f9a02e","#ec6a5c","#a6309b","#2c2b7c"]},"legend":{"orient":"top-right","title":null,"symbolType":"M-4.2,0H4.2M0,-2.1V2.1M1,0A1,1,0,1,1,-1,0A1,1,0,1,1,1,0M0.6,0A0.6,0.6,0,1,1,-0.6,0A0.6,0.6,0,1,1,0.6,0M0.25,0A0.25,0.25,0,1,1,-0.25,0A0.25,0.25,0,1,1,0.25,0","symbolSize":49,"symbolStrokeWidth":1.4,"labelExpr":"'t = ' + datum.label","labelFontStyle":"italic","labelFontSize":15,"rowPadding":-1.5,"offset":10,"labelOffset":22}}}},
 {"transform":[{"filter":"datum.r == 1"}],"mark":{"type":"errorbar","thickness":1.3},"encoding":{"x":{"field":"lag","type":"quantitative","title":null},"y":{"field":"rho","type":"quantitative","title":"ρ(t, t − l)"},"yError":{"field":"e"},"color":{"field":"t","type":"nominal"}}},
 {"transform":[{"filter":"datum.r == 1"}],"mark":{"type":"point","filled":true,"size":32,"opacity":1},"encoding":{"x":{"field":"lag","type":"quantitative"},"y":{"field":"rho","type":"quantitative"},"color":{"field":"t","type":"nominal"}}}
]},
{"width":210,"height":207,"title":"Cognitive states","data":{"name":"cog"},"layer":[
 {"data":{"values":[{}]},"mark":{"type":"rule","color":"#d0d0d0","strokeWidth":1.2,"clip":true},"encoding":{"x":{"datum":0.2,"type":"quantitative"},"y":{"datum":0.2,"type":"quantitative"},"x2":{"datum":0.95},"y2":{"datum":0.95}}},
 {"transform":[{"filter":"datum.r == 1"}],"mark":{"type":"line","strokeWidth":1.2,"strokeDash":[1.5,2],"clip":true},"encoding":{"x":{"field":"x","type":"quantitative","scale":{"domain":[0.228,0.905],"nice":false,"zero":false},"axis":{"values":[0.3,0.4,0.5,0.6,0.7,0.8,0.9],"labels":false,"title":null}},"y":{"field":"y","type":"quantitative","scale":{"domain":[0.097,0.796],"nice":false,"zero":false},"axis":{"values":[0.1,0.2,0.3,0.4,0.5,0.6,0.7],"labels":false,"title":"⟨p̂ₜ₊₁|x₁:ₜ, xₜ₊₁ = G⟩","titleFontStyle":"italic"}},"color":{"field":"t","type":"nominal","scale":{"domain":[0,1,2,3,4],"range":["#fcc62a","#f9a02e","#ec6a5c","#a6309b","#2c2b7c"]},"legend":{"orient":"top-left","title":null,"symbolType":"M-4.2,0H4.2M0,-1.7V1.7M0.9,0A0.9,0.9,0,1,1,-0.9,0A0.9,0.9,0,1,1,0.9,0M0.45,0A0.45,0.45,0,1,1,-0.45,0A0.45,0.45,0,1,1,0.45,0","symbolSize":49,"symbolStrokeWidth":1.2,"labelExpr":"'t = ' + datum.label","labelFontStyle":"italic","labelFontSize":15,"rowPadding":-3.5,"offset":5,"labelOffset":21}}}},
 {"transform":[{"filter":"datum.r == 1"}],"mark":{"type":"errorbar","thickness":1.3},"encoding":{"x":{"field":"x","type":"quantitative","title":null},"y":{"field":"y","type":"quantitative","title":"⟨p̂ₜ₊₁|x₁:ₜ, xₜ₊₁ = G⟩"},"yError":{"field":"ey"},"color":{"field":"t","type":"nominal"}}},
 {"transform":[{"filter":"datum.r == 1"}],"mark":{"type":"errorbar","thickness":1.3},"encoding":{"y":{"field":"y","type":"quantitative","title":"⟨p̂ₜ₊₁|x₁:ₜ, xₜ₊₁ = G⟩"},"x":{"field":"x","type":"quantitative","title":null},"xError":{"field":"ex"},"color":{"field":"t","type":"nominal"}}},
 {"transform":[{"filter":"datum.r == 1"}],"mark":{"type":"point","filled":true,"size":28,"opacity":1},"encoding":{"x":{"field":"x","type":"quantitative"},"y":{"field":"y","type":"quantitative"},"color":{"field":"t","type":"nominal"}}}
]},
{"width":210,"height":207,"title":"Consistent-updates property","data":{"name":"cup"},"layer":[
 {"data":{"values":[{}]},"mark":{"type":"rule","color":"#d4d4d4","strokeWidth":1.2},"encoding":{"y":{"datum":0,"type":"quantitative"}}},
 {"transform":[{"filter":"datum.r == 1"}],"mark":{"type":"errorbar","thickness":1.5,"color":"#1f77b4"},"encoding":{"x":{"field":"x","type":"quantitative","title":null,"scale":{"domain":[0.151,0.849],"nice":false,"zero":false},"axis":{"values":[0.2,0.4,0.6,0.8],"labels":false,"title":null}},"y":{"field":"y","type":"quantitative","title":"δᴿ − δᴳ","scale":{"domain":[-0.052,0.052],"nice":false,"zero":false},"axis":{"values":[-0.04,-0.02,0,0.02,0.04],"title":"δᴿ − δᴳ","titleFontStyle":"italic","labelExpr":"datum.value == 0 ? '0' : replace(format(datum.value, '~g'), '0.', '.')"}},"yError":{"field":"e"}}},
 {"transform":[{"filter":"datum.r == 1 && datum.open == 0"}],"mark":{"type":"point","filled":true,"size":55,"color":"#1f77b4","opacity":1},"encoding":{"x":{"field":"x","type":"quantitative"},"y":{"field":"y","type":"quantitative"}}},
 {"transform":[{"filter":"datum.r == 1 && datum.open == 1"}],"mark":{"type":"point","filled":false,"size":45,"fill":"white","fillOpacity":1,"stroke":"#1f77b4","strokeWidth":1.5,"opacity":1},"encoding":{"x":{"field":"x","type":"quantitative"},"y":{"field":"y","type":"quantitative"}}}
]},
{"width":210,"height":207,"title":{"text":"Adjustments","offset":-4},"layer":[
 {"data":{"values":[{}]},"mark":{"type":"rule","color":"#888","strokeWidth":2},"encoding":{"y":{"datum":0,"type":"quantitative"}}},
 {"data":{"name":"adjB"},"transform":[{"filter":"datum.r == 1"}],"mark":{"type":"area","fillOpacity":0.08,"clip":true},"encoding":{"x":{"field":"x","type":"quantitative"},"y":{"field":"lo","type":"quantitative"},"y2":{"field":"hi"},"fill":{"field":"s","type":"nominal","scale":{"domain":["mean","sd"],"range":["#1f77b4","#ff7f0e"]},"legend":null}}},
 {"data":{"name":"adjD"},"transform":[{"filter":"datum.r == 1"}],"mark":{"type":"point","filled":true,"size":5,"opacity":0.9,"clip":true},"encoding":{"x":{"field":"x","type":"quantitative"},"y":{"field":"y","type":"quantitative"},"color":{"field":"s","type":"nominal","legend":{"orient":"top-right","title":null,"symbolType":"circle","symbolSize":16,"symbolOpacity":1,"labelExpr":"datum.label == 'mean' ? 'Mean p̂ᴿₜ₊₁ − p̂ₜ' : 'StdDev. p̂ᴿₜ₊₁'","labelFontSize":15,"labelOffset":8,"strokeColor":"#d0d0d0","fillColor":"rgba(255,255,255,0.8)","padding":8,"cornerRadius":3,"rowPadding":8,"offset":0}}}},
 {"data":{"name":"adjL"},"transform":[{"filter":"datum.r == 1"}],"mark":{"type":"line","strokeWidth":1.5,"clip":true},"encoding":{"x":{"field":"x","type":"quantitative","scale":{"domain":[-0.008,1.008],"nice":false,"zero":false},"axis":{"values":[0,0.25,0.5,0.75,1],"labels":false,"title":null}},"y":{"field":"y","type":"quantitative","scale":{"domain":[-0.031,0.3],"nice":false,"zero":false},"axis":{"values":[0,0.1,0.2,0.3],"title":"p̂ᴿₜ₊₁ − p̂ₜ","titleFontStyle":"italic","labelExpr":"datum.value == 0 ? '0' : replace(format(datum.value, '~g'), '0.', '.')"}},"color":{"field":"s","type":"nominal","scale":{"domain":["mean","sd"],"range":["#1f77b4","#ff7f0e"]}}}}
]},

{"width":210,"height":207,"data":{"name":"bias"},"layer":[
 {"data":{"values":[{}]},"mark":{"type":"rule","color":"#d4d4d4","strokeWidth":1.2},"encoding":{"y":{"datum":0,"type":"quantitative"}}},
 {"transform":[{"filter":"datum.r == 2"}],"mark":{"type":"line","strokeWidth":1.3,"clip":true},"encoding":{"x":{"field":"x","type":"quantitative","scale":{"domain":[0.1,0.9],"nice":false,"zero":false},"axis":{"values":[0.2,0.4,0.6,0.8],"labels":false,"title":null}},"y":{"field":"y","type":"quantitative","scale":{"domain":[-0.1,0.1],"nice":false,"zero":false},"axis":{"values":[-0.1,-0.05,0,0.05,0.1],"title":"Incorrect prior","labelExpr":"datum.value == 0 ? '0' : replace(format(datum.value, '~g'), '0.', '.')"}},"color":{"field":"t","type":"nominal","scale":{"domain":[1,2,3,4,5],"range":["#fcc62a","#f9a02e","#ec6a5c","#a6309b","#2c2b7c"]},"legend":{"orient":"bottom-left","title":null,"symbolType":"M-4.2,0H4.2M0,-1.4V1.4","symbolSize":49,"symbolStrokeWidth":1.3,"labelExpr":"'t = ' + datum.label","labelFontStyle":"italic","labelFontSize":14,"rowPadding":-1.5,"offset":6,"labelOffset":23}}}},
 {"data":{"values":[{}]},"mark":{"type":"text","fontSize":15,"fontStyle":"italic","color":"#333"},"encoding":{"x":{"datum":0.673,"type":"quantitative"},"y":{"datum":0.073,"type":"quantitative"},"text":{"value":"p̂ − p*"}}}
]},
{"width":210,"height":207,"data":{"name":"ac"},"layer":[
 {"transform":[{"filter":"datum.r == 2"}],"mark":{"type":"line","strokeWidth":1.3},"encoding":{"x":{"field":"lag","type":"quantitative","scale":{"domain":[0.85,4.15],"nice":false,"zero":false},"axis":{"values":[1,2,3,4],"labels":false,"title":null}},"y":{"field":"rho","type":"quantitative","scale":{"domain":[-0.045,0.902],"nice":false,"zero":false},"axis":{"values":[0,0.2,0.4,0.6,0.8],"title":"ρ(t, t − l)","titleFontStyle":"italic","labelExpr":"datum.value == 0 ? '0' : replace(format(datum.value, '~g'), '0.', '.')"}},"color":{"field":"t","type":"nominal","scale":{"domain":[2,3,4,5],"range":["#f9a02e","#ec6a5c","#a6309b","#2c2b7c"]},"legend":null}}},
 {"transform":[{"filter":"datum.r == 2"}],"mark":{"type":"point","filled":true,"size":28,"opacity":1},"encoding":{"x":{"field":"lag","type":"quantitative"},"y":{"field":"rho","type":"quantitative"},"color":{"field":"t","type":"nominal","legend":null}}}
]},
{"width":210,"height":207,"data":{"name":"cog"},"layer":[
 {"data":{"values":[{}]},"mark":{"type":"rule","color":"#d0d0d0","strokeWidth":1.2,"clip":true},"encoding":{"x":{"datum":0.2,"type":"quantitative"},"y":{"datum":0.2,"type":"quantitative"},"x2":{"datum":0.95},"y2":{"datum":0.95}}},
 {"transform":[{"filter":"datum.r == 2"}],"mark":{"type":"line","strokeWidth":1.2,"strokeDash":[1.5,2],"clip":true},"encoding":{"x":{"field":"x","type":"quantitative","scale":{"domain":[0.228,0.905],"nice":false,"zero":false},"axis":{"values":[0.3,0.4,0.5,0.6,0.7,0.8,0.9],"labels":false,"title":null}},"y":{"field":"y","type":"quantitative","scale":{"domain":[0.097,0.796],"nice":false,"zero":false},"axis":{"values":[0.1,0.2,0.3,0.4,0.5,0.6,0.7],"labels":false,"title":"⟨p̂ₜ₊₁|x₁:ₜ, xₜ₊₁ = G⟩","titleFontStyle":"italic"}},"color":{"field":"t","type":"nominal","scale":{"domain":[0,1,2,3,4],"range":["#fcc62a","#f9a02e","#ec6a5c","#a6309b","#2c2b7c"]},"legend":null}}},
 {"transform":[{"filter":"datum.r == 2"}],"mark":{"type":"point","filled":true,"size":22,"opacity":1,"clip":true},"encoding":{"x":{"field":"x","type":"quantitative"},"y":{"field":"y","type":"quantitative"},"color":{"field":"t","type":"nominal","legend":null}}}
]},
{"width":210,"height":207,"data":{"name":"cup"},"layer":[
 {"data":{"values":[{}]},"mark":{"type":"rule","color":"#d4d4d4","strokeWidth":1.2},"encoding":{"y":{"datum":0,"type":"quantitative"}}},
 {"transform":[{"filter":"datum.r == 2"}],"mark":{"type":"point","filled":false,"size":30,"fill":"white","fillOpacity":1,"stroke":"#1f77b4","strokeWidth":1.3,"opacity":1},"encoding":{"x":{"field":"x","type":"quantitative","scale":{"domain":[0.151,0.849],"nice":false,"zero":false},"axis":{"values":[0.2,0.4,0.6,0.8],"labels":false,"title":null}},"y":{"field":"y","type":"quantitative","scale":{"domain":[-0.052,0.052],"nice":false,"zero":false},"axis":{"values":[-0.04,-0.02,0,0.02,0.04],"title":"δᴿ − δᴳ","titleFontStyle":"italic","labelExpr":"datum.value == 0 ? '0' : replace(format(datum.value, '~g'), '0.', '.')"}}}}
]},
{"width":210,"height":207,"data":{"name":"adjL"},"layer":[
 {"data":{"values":[{}]},"mark":{"type":"rule","color":"#888","strokeWidth":2},"encoding":{"y":{"datum":0,"type":"quantitative"}}},
 {"transform":[{"filter":"datum.r == 2"}],"mark":{"type":"line","strokeWidth":5,"opacity":0.3,"clip":true},"encoding":{"x":{"field":"x","type":"quantitative"},"y":{"field":"y","type":"quantitative"},"color":{"field":"s","type":"nominal","legend":null}}},
 {"transform":[{"filter":"datum.r == 2"}],"mark":{"type":"line","strokeWidth":1.5,"clip":true},"encoding":{"x":{"field":"x","type":"quantitative","scale":{"domain":[-0.008,1.008],"nice":false,"zero":false},"axis":{"values":[0,0.25,0.5,0.75,1],"labels":false,"title":null}},"y":{"field":"y","type":"quantitative","scale":{"domain":[-0.031,0.3],"nice":false,"zero":false},"axis":{"values":[0,0.1,0.2,0.3],"title":"p̂ᴿₜ₊₁ − p̂ₜ","titleFontStyle":"italic","labelExpr":"datum.value == 0 ? '0' : replace(format(datum.value, '~g'), '0.', '.')"}},"color":{"field":"s","type":"nominal","scale":{"domain":["mean","sd"],"range":["#1f77b4","#ff7f0e"]},"legend":null}}}
]},

{"width":210,"height":207,"data":{"name":"bias"},"layer":[
 {"data":{"values":[{}]},"mark":{"type":"rule","color":"#d4d4d4","strokeWidth":1.2},"encoding":{"y":{"datum":0,"type":"quantitative"}}},
 {"transform":[{"filter":"datum.r == 3"}],"mark":{"type":"line","strokeWidth":1.3,"clip":true},"encoding":{"x":{"field":"x","type":"quantitative","scale":{"domain":[0.1,0.9],"nice":false,"zero":false},"axis":{"values":[0.2,0.4,0.6,0.8],"labels":false,"title":null}},"y":{"field":"y","type":"quantitative","scale":{"domain":[-0.1,0.1],"nice":false,"zero":false},"axis":{"values":[-0.1,-0.05,0,0.05,0.1],"title":["Noiseless cognitive states","Noisy responses (Gaussian)"],"labelExpr":"datum.value == 0 ? '0' : replace(format(datum.value, '~g'), '0.', '.')"}},"color":{"field":"t","type":"nominal","scale":{"domain":[1,2,3,4,5],"range":["#fcc62a","#f9a02e","#ec6a5c","#a6309b","#2c2b7c"]},"legend":null}}},
 {"data":{"values":[{}]},"mark":{"type":"text","fontSize":15,"fontStyle":"italic","color":"#333"},"encoding":{"x":{"datum":0.673,"type":"quantitative"},"y":{"datum":0.073,"type":"quantitative"},"text":{"value":"p̂ − p*"}}}
]},
{"width":210,"height":207,"data":{"name":"ac"},"layer":[
 {"transform":[{"filter":"datum.r == 3"}],"mark":{"type":"line","strokeWidth":1.3},"encoding":{"x":{"field":"lag","type":"quantitative","scale":{"domain":[0.85,4.15],"nice":false,"zero":false},"axis":{"values":[1,2,3,4],"labels":false,"title":null}},"y":{"field":"rho","type":"quantitative","scale":{"domain":[-0.045,0.902],"nice":false,"zero":false},"axis":{"values":[0,0.2,0.4,0.6,0.8],"title":"ρ(t, t − l)","titleFontStyle":"italic","labelExpr":"datum.value == 0 ? '0' : replace(format(datum.value, '~g'), '0.', '.')"}},"color":{"field":"t","type":"nominal","scale":{"domain":[2,3,4,5],"range":["#f9a02e","#ec6a5c","#a6309b","#2c2b7c"]},"legend":null}}},
 {"transform":[{"filter":"datum.r == 3"}],"mark":{"type":"point","filled":true,"size":28,"opacity":1},"encoding":{"x":{"field":"lag","type":"quantitative"},"y":{"field":"rho","type":"quantitative"},"color":{"field":"t","type":"nominal","legend":null}}}
]},
{"width":210,"height":207,"data":{"name":"cog"},"layer":[
 {"data":{"values":[{}]},"mark":{"type":"rule","color":"#d0d0d0","strokeWidth":1.2,"clip":true},"encoding":{"x":{"datum":0.2,"type":"quantitative"},"y":{"datum":0.2,"type":"quantitative"},"x2":{"datum":0.95},"y2":{"datum":0.95}}},
 {"transform":[{"filter":"datum.r == 3"}],"mark":{"type":"line","strokeWidth":1.2,"strokeDash":[1.5,2],"clip":true},"encoding":{"x":{"field":"x","type":"quantitative","scale":{"domain":[0.228,0.905],"nice":false,"zero":false},"axis":{"values":[0.3,0.4,0.5,0.6,0.7,0.8,0.9],"labels":false,"title":null}},"y":{"field":"y","type":"quantitative","scale":{"domain":[0.097,0.796],"nice":false,"zero":false},"axis":{"values":[0.1,0.2,0.3,0.4,0.5,0.6,0.7],"labels":false,"title":"⟨p̂ₜ₊₁|x₁:ₜ, xₜ₊₁ = G⟩","titleFontStyle":"italic"}},"color":{"field":"t","type":"nominal","scale":{"domain":[0,1,2,3,4],"range":["#fcc62a","#f9a02e","#ec6a5c","#a6309b","#2c2b7c"]},"legend":null}}},
 {"transform":[{"filter":"datum.r == 3"}],"mark":{"type":"point","filled":true,"size":22,"opacity":1,"clip":true},"encoding":{"x":{"field":"x","type":"quantitative"},"y":{"field":"y","type":"quantitative"},"color":{"field":"t","type":"nominal","legend":null}}}
]},
{"width":210,"height":207,"data":{"name":"cup"},"layer":[
 {"data":{"values":[{}]},"mark":{"type":"rule","color":"#d4d4d4","strokeWidth":1.2},"encoding":{"y":{"datum":0,"type":"quantitative"}}},
 {"transform":[{"filter":"datum.r == 3 && datum.open == 0"}],"mark":{"type":"point","filled":true,"size":55,"color":"#1f77b4","opacity":1},"encoding":{"x":{"field":"x","type":"quantitative","scale":{"domain":[0.151,0.849],"nice":false,"zero":false},"axis":{"values":[0.2,0.4,0.6,0.8],"labels":false,"title":null}},"y":{"field":"y","type":"quantitative","scale":{"domain":[-0.052,0.052],"nice":false,"zero":false},"axis":{"values":[-0.04,-0.02,0,0.02,0.04],"title":"δᴿ − δᴳ","titleFontStyle":"italic","labelExpr":"datum.value == 0 ? '0' : replace(format(datum.value, '~g'), '0.', '.')"}}}},
 {"transform":[{"filter":"datum.r == 3 && datum.open == 1"}],"mark":{"type":"point","filled":false,"size":40,"fill":"white","fillOpacity":1,"stroke":"#1f77b4","strokeWidth":1.4,"opacity":1},"encoding":{"x":{"field":"x","type":"quantitative"},"y":{"field":"y","type":"quantitative"}}}
]},
{"width":210,"height":207,"data":{"name":"adjL"},"layer":[
 {"data":{"values":[{}]},"mark":{"type":"rule","color":"#888","strokeWidth":2},"encoding":{"y":{"datum":0,"type":"quantitative"}}},
 {"transform":[{"filter":"datum.r == 3"}],"mark":{"type":"line","strokeWidth":5,"opacity":0.3,"clip":true},"encoding":{"x":{"field":"x","type":"quantitative"},"y":{"field":"y","type":"quantitative"},"color":{"field":"s","type":"nominal","legend":null}}},
 {"transform":[{"filter":"datum.r == 3"}],"mark":{"type":"line","strokeWidth":1.5,"clip":true},"encoding":{"x":{"field":"x","type":"quantitative","scale":{"domain":[-0.008,1.008],"nice":false,"zero":false},"axis":{"values":[0,0.25,0.5,0.75,1],"labels":false,"title":null}},"y":{"field":"y","type":"quantitative","scale":{"domain":[-0.031,0.3],"nice":false,"zero":false},"axis":{"values":[0,0.1,0.2,0.3],"title":"p̂ᴿₜ₊₁ − p̂ₜ","titleFontStyle":"italic","labelExpr":"datum.value == 0 ? '0' : replace(format(datum.value, '~g'), '0.', '.')"}},"color":{"field":"s","type":"nominal","scale":{"domain":["mean","sd"],"range":["#1f77b4","#ff7f0e"]},"legend":null}}}
]},

{"width":210,"height":207,"data":{"name":"bias"},"layer":[
 {"data":{"values":[{}]},"mark":{"type":"rule","color":"#d4d4d4","strokeWidth":1.2},"encoding":{"y":{"datum":0,"type":"quantitative"}}},
 {"transform":[{"filter":"datum.r == 4"}],"mark":{"type":"line","strokeWidth":1.3,"clip":true},"encoding":{"x":{"field":"x","type":"quantitative","scale":{"domain":[0.1,0.9],"nice":false,"zero":false},"axis":{"values":[0.2,0.4,0.6,0.8],"labels":false,"title":null}},"y":{"field":"y","type":"quantitative","scale":{"domain":[-0.1,0.1],"nice":false,"zero":false},"axis":{"values":[-0.1,-0.05,0,0.05,0.1],"title":["Noisy cognitive states (Gaussian)","Noiseless responses"],"labelExpr":"datum.value == 0 ? '0' : replace(format(datum.value, '~g'), '0.', '.')"}},"color":{"field":"t","type":"nominal","scale":{"domain":[1,2,3,4,5],"range":["#fcc62a","#f9a02e","#ec6a5c","#a6309b","#2c2b7c"]},"legend":null}}},
 {"data":{"values":[{}]},"mark":{"type":"text","fontSize":15,"fontStyle":"italic","color":"#333"},"encoding":{"x":{"datum":0.673,"type":"quantitative"},"y":{"datum":0.073,"type":"quantitative"},"text":{"value":"p̂ − p*"}}}
]},
{"width":210,"height":207,"data":{"name":"ac"},"layer":[
 {"transform":[{"filter":"datum.r == 4"}],"mark":{"type":"line","strokeWidth":1.3},"encoding":{"x":{"field":"lag","type":"quantitative","scale":{"domain":[0.85,4.15],"nice":false,"zero":false},"axis":{"values":[1,2,3,4],"labels":false,"title":null}},"y":{"field":"rho","type":"quantitative","scale":{"domain":[-0.045,0.902],"nice":false,"zero":false},"axis":{"values":[0,0.2,0.4,0.6,0.8],"title":"ρ(t, t − l)","titleFontStyle":"italic","labelExpr":"datum.value == 0 ? '0' : replace(format(datum.value, '~g'), '0.', '.')"}},"color":{"field":"t","type":"nominal","scale":{"domain":[2,3,4,5],"range":["#f9a02e","#ec6a5c","#a6309b","#2c2b7c"]},"legend":null}}},
 {"transform":[{"filter":"datum.r == 4"}],"mark":{"type":"point","filled":true,"size":28,"opacity":1},"encoding":{"x":{"field":"lag","type":"quantitative"},"y":{"field":"rho","type":"quantitative"},"color":{"field":"t","type":"nominal","legend":null}}}
]},
{"width":210,"height":207,"data":{"name":"cog"},"layer":[
 {"data":{"values":[{}]},"mark":{"type":"rule","color":"#d0d0d0","strokeWidth":1.2,"clip":true},"encoding":{"x":{"datum":0.2,"type":"quantitative"},"y":{"datum":0.2,"type":"quantitative"},"x2":{"datum":0.95},"y2":{"datum":0.95}}},
 {"transform":[{"filter":"datum.r == 4"}],"mark":{"type":"line","strokeWidth":1.2,"strokeDash":[1.5,2],"clip":true},"encoding":{"x":{"field":"x","type":"quantitative","scale":{"domain":[0.228,0.905],"nice":false,"zero":false},"axis":{"values":[0.3,0.4,0.5,0.6,0.7,0.8,0.9],"labels":false,"title":null}},"y":{"field":"y","type":"quantitative","scale":{"domain":[0.097,0.796],"nice":false,"zero":false},"axis":{"values":[0.1,0.2,0.3,0.4,0.5,0.6,0.7],"labels":false,"title":"⟨p̂ₜ₊₁|x₁:ₜ, xₜ₊₁ = G⟩","titleFontStyle":"italic"}},"color":{"field":"t","type":"nominal","scale":{"domain":[0,1,2,3,4],"range":["#fcc62a","#f9a02e","#ec6a5c","#a6309b","#2c2b7c"]},"legend":null}}},
 {"transform":[{"filter":"datum.r == 4"}],"mark":{"type":"point","filled":true,"size":22,"opacity":1,"clip":true},"encoding":{"x":{"field":"x","type":"quantitative"},"y":{"field":"y","type":"quantitative"},"color":{"field":"t","type":"nominal","legend":null}}}
]},
{"width":210,"height":207,"data":{"name":"cup"},"layer":[
 {"data":{"values":[{}]},"mark":{"type":"rule","color":"#d4d4d4","strokeWidth":1.2},"encoding":{"y":{"datum":0,"type":"quantitative"}}},
 {"transform":[{"filter":"datum.r == 4 && datum.open == 0"}],"mark":{"type":"point","filled":true,"size":55,"color":"#1f77b4","opacity":1},"encoding":{"x":{"field":"x","type":"quantitative","scale":{"domain":[0.151,0.849],"nice":false,"zero":false},"axis":{"values":[0.2,0.4,0.6,0.8],"labels":false,"title":null}},"y":{"field":"y","type":"quantitative","scale":{"domain":[-0.052,0.052],"nice":false,"zero":false},"axis":{"values":[-0.04,-0.02,0,0.02,0.04],"title":"δᴿ − δᴳ","titleFontStyle":"italic","labelExpr":"datum.value == 0 ? '0' : replace(format(datum.value, '~g'), '0.', '.')"}}}},
 {"transform":[{"filter":"datum.r == 4 && datum.open == 1"}],"mark":{"type":"point","filled":false,"size":40,"fill":"white","fillOpacity":1,"stroke":"#1f77b4","strokeWidth":1.4,"opacity":1},"encoding":{"x":{"field":"x","type":"quantitative"},"y":{"field":"y","type":"quantitative"}}}
]},
{"width":210,"height":207,"data":{"name":"adjL"},"layer":[
 {"data":{"values":[{}]},"mark":{"type":"rule","color":"#888","strokeWidth":2},"encoding":{"y":{"datum":0,"type":"quantitative"}}},
 {"transform":[{"filter":"datum.r == 4"}],"mark":{"type":"line","strokeWidth":5,"opacity":0.3,"clip":true},"encoding":{"x":{"field":"x","type":"quantitative"},"y":{"field":"y","type":"quantitative"},"color":{"field":"s","type":"nominal","legend":null}}},
 {"transform":[{"filter":"datum.r == 4"}],"mark":{"type":"line","strokeWidth":1.5,"clip":true},"encoding":{"x":{"field":"x","type":"quantitative","scale":{"domain":[-0.008,1.008],"nice":false,"zero":false},"axis":{"values":[0,0.25,0.5,0.75,1],"labels":false,"title":null}},"y":{"field":"y","type":"quantitative","scale":{"domain":[-0.031,0.3],"nice":false,"zero":false},"axis":{"values":[0,0.1,0.2,0.3],"title":"p̂ᴿₜ₊₁ − p̂ₜ","titleFontStyle":"italic","labelExpr":"datum.value == 0 ? '0' : replace(format(datum.value, '~g'), '0.', '.')"}},"color":{"field":"s","type":"nominal","scale":{"domain":["mean","sd"],"range":["#1f77b4","#ff7f0e"]},"legend":null}}}
]},

{"width":210,"height":207,"data":{"name":"bias"},"layer":[
 {"data":{"values":[{}]},"mark":{"type":"rule","color":"#d4d4d4","strokeWidth":1.2},"encoding":{"y":{"datum":0,"type":"quantitative"}}},
 {"transform":[{"filter":"datum.r == 5"}],"mark":{"type":"line","strokeWidth":1.3,"clip":true},"encoding":{"x":{"field":"x","type":"quantitative","scale":{"domain":[0.1,0.9],"nice":false,"zero":false},"axis":{"values":[0.2,0.4,0.6,0.8],"title":"Optimal p* = (nᵣ + 1)/(t + 2)","labelExpr":"datum.value == 0 ? '0' : replace(format(datum.value, '~g'), '0.', '.')"}},"y":{"field":"y","type":"quantitative","scale":{"domain":[-0.1,0.1],"nice":false,"zero":false},"axis":{"values":[-0.1,-0.05,0,0.05,0.1],"title":["Noisy cognitive states (Gaussian)","Noisy responses (Log-normal)"],"labelExpr":"datum.value == 0 ? '0' : replace(format(datum.value, '~g'), '0.', '.')"}},"color":{"field":"t","type":"nominal","scale":{"domain":[1,2,3,4,5],"range":["#fcc62a","#f9a02e","#ec6a5c","#a6309b","#2c2b7c"]},"legend":null}}},
 {"data":{"values":[{}]},"mark":{"type":"text","fontSize":15,"fontStyle":"italic","color":"#333"},"encoding":{"x":{"datum":0.673,"type":"quantitative"},"y":{"datum":0.073,"type":"quantitative"},"text":{"value":"p̂ − p*"}}}
]},
{"width":210,"height":207,"data":{"name":"ac"},"layer":[
 {"transform":[{"filter":"datum.r == 5"}],"mark":{"type":"line","strokeWidth":1.3},"encoding":{"x":{"field":"lag","type":"quantitative","scale":{"domain":[0.85,4.15],"nice":false,"zero":false},"axis":{"values":[1,2,3,4],"format":"d","title":"Lag l"}},"y":{"field":"rho","type":"quantitative","scale":{"domain":[-0.045,0.902],"nice":false,"zero":false},"axis":{"values":[0,0.2,0.4,0.6,0.8],"title":"ρ(t, t − l)","titleFontStyle":"italic","labelExpr":"datum.value == 0 ? '0' : replace(format(datum.value, '~g'), '0.', '.')"}},"color":{"field":"t","type":"nominal","scale":{"domain":[2,3,4,5],"range":["#f9a02e","#ec6a5c","#a6309b","#2c2b7c"]},"legend":null}}},
 {"transform":[{"filter":"datum.r == 5"}],"mark":{"type":"point","filled":true,"size":28,"opacity":1},"encoding":{"x":{"field":"lag","type":"quantitative"},"y":{"field":"rho","type":"quantitative"},"color":{"field":"t","type":"nominal","legend":null}}}
]},
{"width":210,"height":207,"data":{"name":"cog"},"layer":[
 {"data":{"values":[{}]},"mark":{"type":"rule","color":"#d0d0d0","strokeWidth":1.2,"clip":true},"encoding":{"x":{"datum":0.2,"type":"quantitative"},"y":{"datum":0.2,"type":"quantitative"},"x2":{"datum":0.95},"y2":{"datum":0.95}}},
 {"transform":[{"filter":"datum.r == 5"}],"mark":{"type":"line","strokeWidth":1.2,"strokeDash":[1.5,2],"clip":true},"encoding":{"x":{"field":"x","type":"quantitative","scale":{"domain":[0.228,0.905],"nice":false,"zero":false},"axis":{"values":[0.3,0.4,0.5,0.6,0.7,0.8,0.9],"title":"⟨p̂ₜ₊₁|x₁:ₜ, xₜ₊₁ = R⟩","titleFontStyle":"italic","labelExpr":"datum.value == 0 ? '0' : replace(format(datum.value, '~g'), '0.', '.')"}},"y":{"field":"y","type":"quantitative","scale":{"domain":[0.097,0.796],"nice":false,"zero":false},"axis":{"values":[0.1,0.2,0.3,0.4,0.5,0.6,0.7],"labels":false,"title":"⟨p̂ₜ₊₁|x₁:ₜ, xₜ₊₁ = G⟩","titleFontStyle":"italic"}},"color":{"field":"t","type":"nominal","scale":{"domain":[0,1,2,3,4],"range":["#fcc62a","#f9a02e","#ec6a5c","#a6309b","#2c2b7c"]},"legend":null}}},
 {"transform":[{"filter":"datum.r == 5"}],"mark":{"type":"point","filled":true,"size":22,"opacity":1,"clip":true},"encoding":{"x":{"field":"x","type":"quantitative"},"y":{"field":"y","type":"quantitative"},"color":{"field":"t","type":"nominal","legend":null}}}
]},
{"width":210,"height":207,"data":{"name":"cup"},"layer":[
 {"data":{"values":[{}]},"mark":{"type":"rule","color":"#d4d4d4","strokeWidth":1.2},"encoding":{"y":{"datum":0,"type":"quantitative"}}},
 {"transform":[{"filter":"datum.r == 5"}],"mark":{"type":"point","filled":true,"size":55,"color":"#1f77b4","opacity":1},"encoding":{"x":{"field":"x","type":"quantitative","scale":{"domain":[0.151,0.849],"nice":false,"zero":false},"axis":{"values":[0.2,0.4,0.6,0.8],"title":"p̂","titleFontStyle":"italic","labelExpr":"datum.value == 0 ? '0' : replace(format(datum.value, '~g'), '0.', '.')"}},"y":{"field":"y","type":"quantitative","scale":{"domain":[-0.052,0.052],"nice":false,"zero":false},"axis":{"values":[-0.04,-0.02,0,0.02,0.04],"title":"δᴿ − δᴳ","titleFontStyle":"italic","labelExpr":"datum.value == 0 ? '0' : replace(format(datum.value, '~g'), '0.', '.')"}}}}
]},
{"width":210,"height":207,"data":{"name":"adjL"},"layer":[
 {"data":{"values":[{}]},"mark":{"type":"rule","color":"#888","strokeWidth":2},"encoding":{"y":{"datum":0,"type":"quantitative"}}},
 {"transform":[{"filter":"datum.r == 5"}],"mark":{"type":"line","strokeWidth":5,"opacity":0.3,"clip":true},"encoding":{"x":{"field":"x","type":"quantitative"},"y":{"field":"y","type":"quantitative"},"color":{"field":"s","type":"nominal","legend":null}}},
 {"transform":[{"filter":"datum.r == 5"}],"mark":{"type":"line","strokeWidth":1.5,"clip":true},"encoding":{"x":{"field":"x","type":"quantitative","scale":{"domain":[-0.008,1.008],"nice":false,"zero":false},"axis":{"values":[0,0.25,0.5,0.75,1],"title":"p̂ₜ","titleFontStyle":"italic","labelExpr":"datum.value == 0 ? '0' : replace(format(datum.value, '~g'), '0.', '.')"}},"y":{"field":"y","type":"quantitative","scale":{"domain":[-0.031,0.3],"nice":false,"zero":false},"axis":{"values":[0,0.1,0.2,0.3],"title":"p̂ᴿₜ₊₁ − p̂ₜ","titleFontStyle":"italic","labelExpr":"datum.value == 0 ? '0' : replace(format(datum.value, '~g'), '0.', '.')"}},"color":{"field":"s","type":"nominal","scale":{"domain":["mean","sd"],"range":["#1f77b4","#ff7f0e"]},"legend":null}}}
]}
]
}
